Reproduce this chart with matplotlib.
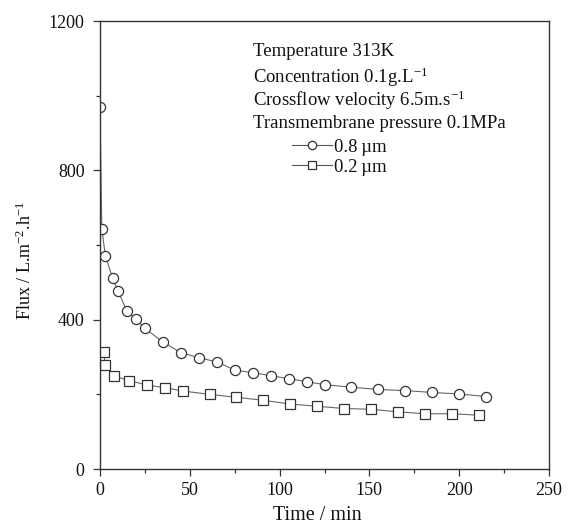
import matplotlib
matplotlib.use("Agg")
import matplotlib.pyplot as plt
from matplotlib.ticker import MultipleLocator
from matplotlib.lines import Line2D

plt.rcParams['font.family'] = ['Liberation Serif', 'DejaVu Serif']
plt.rcParams['mathtext.fontset'] = 'custom'
plt.rcParams['mathtext.rm'] = 'Liberation Serif'
plt.rcParams['mathtext.it'] = 'Liberation Serif:italic'

# Data
t_08 = [0, 1, 3, 7, 10, 15, 20, 25, 35, 45, 55, 65, 75, 85, 95, 105, 115, 125,
        140, 155, 170, 185, 200, 215]
flux_08 = [970, 643, 571, 512, 477, 423, 401, 377, 340, 312, 298, 287, 265, 258,
           250, 242, 234, 226, 219, 213, 210, 205, 201, 194]
t_02 = [2, 3, 8, 16, 26, 36, 46, 61, 76, 91, 106, 121, 136, 151, 166, 181, 196, 211]
flux_02 = [313, 278, 249, 237, 225, 218, 209, 200, 192, 184, 174, 168, 162, 160,
           153, 148, 148, 144]

labels = ["0.8\u2009\u00b5m", "0.2\u2009\u00b5m"]
conditions = ["Temperature 313K",
              "Concentration 0.1g.L$^{\\mathregular{-1}}$",
              "Crossflow velocity 6.5m.s$^{\\mathregular{-1}}$",
              "Transmembrane pressure 0.1MPa"]

fig = plt.figure(figsize=(5.68, 5.24), dpi=100)
ax = fig.add_axes([100/568, 1-469/524, 449/568, 448/524])

ax.plot(t_08, flux_08, '-', color='#666666', lw=0.8, marker='o', ms=7.3,
        mfc='white', mec='#333333', mew=0.9)
ax.plot(t_02, flux_02, '-', color='#666666', lw=0.8, marker='s', ms=7.0,
        mfc='white', mec='#333333', mew=0.9)

ax.set_xlim(0, 250)
ax.set_ylim(0, 1200)
ax.xaxis.set_major_locator(MultipleLocator(50))
ax.xaxis.set_minor_locator(MultipleLocator(25))
ax.yaxis.set_major_locator(MultipleLocator(400))
ax.yaxis.set_minor_locator(MultipleLocator(200))
ax.tick_params(which='both', direction='out', top=False, right=False,
               color='#333333', width=0.9, labelsize=13, labelcolor='#111111')
ax.tick_params(which='major', length=5)
ax.tick_params(which='minor', length=3)
ax.tick_params(axis='y', which='major', pad=6)
ax.tick_params(axis='x', which='major', pad=4.5)
for s in ax.spines.values():
    s.set_color('#333333')
    s.set_linewidth(1.0)

ax.set_xlabel("Time / min", fontsize=14.5, color='#111111')
ax.set_ylabel("Flux / L.m$^{\\mathregular{-2}}$.h$^{\\mathregular{-1}}$", fontsize=13,
              color='#111111')
ax.xaxis.set_label_coords(0.484, -0.083)
ax.yaxis.set_label_coords(-0.145, 0.466)

ys = [0.932, 0.875, 0.822, 0.772]
for txt, y in zip(conditions, ys):
    ax.text(0.341, y, txt, transform=ax.transAxes, fontsize=13.5, va='center',
            ha='left', color='#111111')

handles = [Line2D([], [], color='#555555', lw=0.8, marker='o', ms=6,
                  mfc='white', mec='#333333', mew=0.9),
           Line2D([], [], color='#555555', lw=0.8, marker='s', ms=5.5,
                  mfc='white', mec='#333333', mew=0.9)]
leg = ax.legend(handles, labels, loc='upper left', bbox_to_anchor=(0.428, 0.738),
                frameon=False, fontsize=13.5, handlelength=2.1, handletextpad=0.15,
                borderpad=0, labelspacing=0.18, borderaxespad=0)
for t in leg.get_texts():
    t.set_color('#111111')

fig.savefig("out.png", dpi=100)
